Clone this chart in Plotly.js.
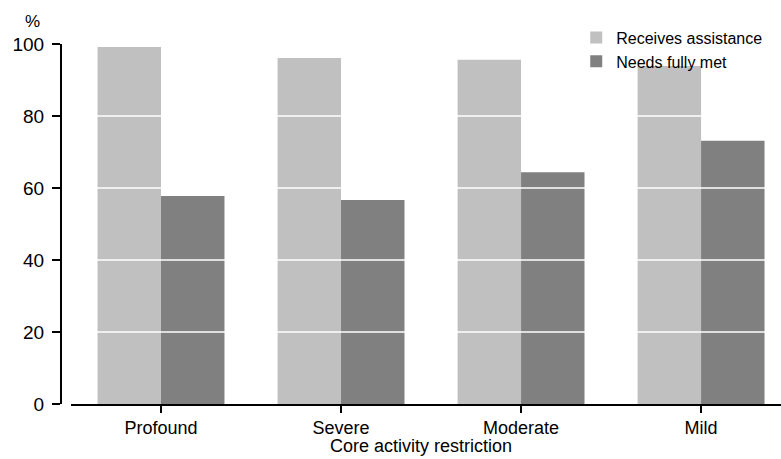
<!DOCTYPE html>
<html><head><meta charset="utf-8">
<script src="https://cdn.plot.ly/plotly-3.0.1.min.js"></script>
<style>html,body{margin:0;padding:0;background:#fff}#chart{width:781px;height:459px}</style>
</head><body><div id="chart"></div>
<script>
const categories = ["Profound", "Severe", "Moderate", "Mild"];
const receivesAssistance = [99.2, 96.1, 95.6, 93.9];
const needsFullyMet = [57.8, 56.7, 64.4, 73.1];
const gridValues = [20, 40, 60, 80];
const yTicks = [0, 20, 40, 60, 80, 100];

const font = "Liberation Sans, Arial, sans-serif";
const traces = [
  {type: "bar", name: "Receives assistance", x: categories, y: receivesAssistance,
   marker: {color: "#c0c0c0"}, hoverinfo: "none"},
  {type: "bar", name: "Needs fully met", x: categories, y: needsFullyMet,
   marker: {color: "#808080"}, hoverinfo: "none"}
];
const shapes = gridValues.map(v => ({type: "line", xref: "paper", yref: "y",
  x0: 11/721, x1: 1, y0: v, y1: v, layer: "above", line: {color: "#ffffff", width: 1.5}}));

const layout = {
  width: 781, height: 459,
  margin: {l: 60, r: 0, t: 44, b: 55},
  paper_bgcolor: "#fff", plot_bgcolor: "#fff",
  barmode: "group", bargap: 0.295, bargroupgap: 0,
  font: {family: font, color: "#000"},
  showlegend: true,
  legend: {x: 0.716, y: 1.065, xanchor: "left", yanchor: "top", font: {size: 16, family: font},
    bgcolor: "rgba(0,0,0,0)", itemwidth: 30, tracegroupgap: 0},
  xaxis: {domain: [11/721, 1], range: [-0.5, 3.444], showgrid: false, zeroline: false,
    showline: true, linecolor: "#000", linewidth: 1.5, ticks: "outside", ticklen: 7,
    tickcolor: "#000", tickwidth: 1.5, tickfont: {size: 18, family: font},
    fixedrange: true},
  yaxis: {anchor: "free", position: 0, range: [0, 100], tickvals: yTicks, showgrid: false,
    zeroline: false, showline: true, linecolor: "#000", linewidth: 1.5, ticks: "outside",
    ticklen: 8, tickcolor: "#000", tickwidth: 1.5, tickfont: {size: 19, family: font},
    ticklabelstandoff: 4, fixedrange: true},
  shapes: shapes,
  annotations: [
    {text: "%", xref: "paper", yref: "paper", x: -0.038, y: 1.03,
     xanchor: "center", yanchor: "bottom", showarrow: false, font: {size: 17, family: font}},
    {text: "Core activity restriction", xref: "paper", yref: "paper", x: 0.5, y: -42/360,
     xanchor: "center", yanchor: "middle", showarrow: false, font: {size: 18, family: font}}
  ]
};
Plotly.newPlot("chart", traces, layout, {displayModeBar: false, staticPlot: true});
</script></body></html>
